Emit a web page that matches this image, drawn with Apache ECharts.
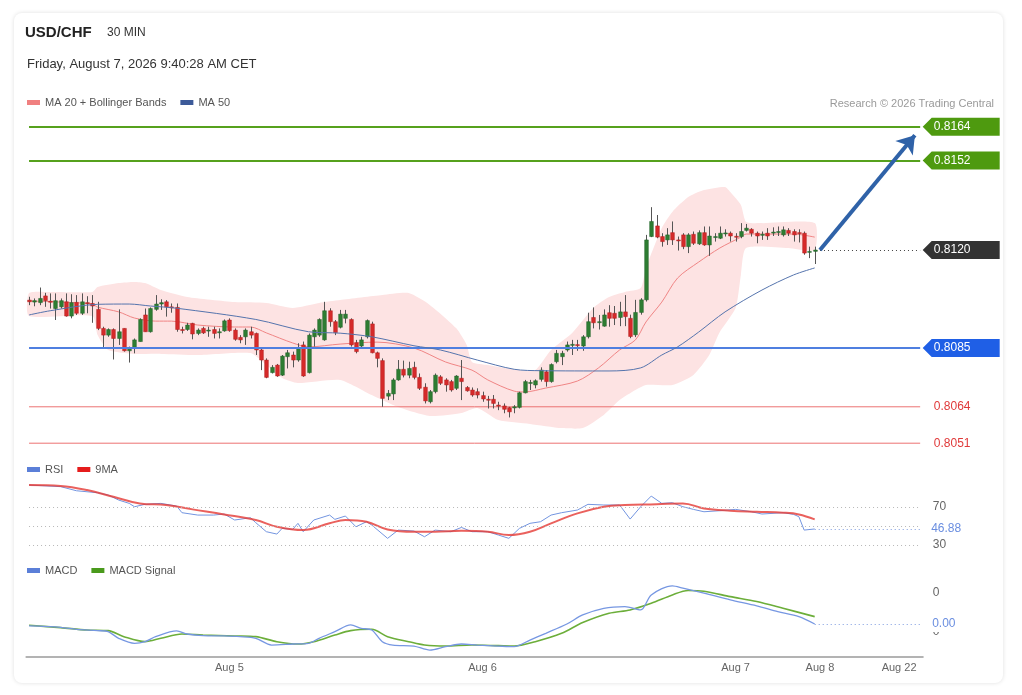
<!DOCTYPE html>
<html>
<head>
<meta charset="utf-8">
<title>USD/CHF 30 MIN</title>
<script src="https://cdn.jsdelivr.net/npm/echarts@6/dist/echarts.min.js"></script>
<style>
  html, body { margin: 0; padding: 0; background: #fff; }
  #card { position: absolute; left: 14px; top: 13px; width: 989px; height: 670px; border-radius: 8px; box-shadow: 0 0 4px rgba(0, 0, 0, 0.13); }
  #chart { position: absolute; left: 0; top: 0; width: 1022px; height: 695px; }
</style>
</head>
<body>
<div id="card"></div>
<div id="chart"></div>
<script>
// 30 min candles, [open, close, low, high]
const candles = [
  [0.81021, 0.81015, 0.81003, 0.81033], [0.81014, 0.81019, 0.80999, 0.81027], [0.81012, 0.81027, 0.81003, 0.81066],
  [0.81036, 0.81019, 0.80997, 0.81047], [0.81017, 0.81014, 0.80991, 0.81045], [0.80991, 0.81019, 0.80950, 0.81045],
  [0.80997, 0.81019, 0.80991, 0.81027], [0.81015, 0.80964, 0.80962, 0.81045], [0.80964, 0.81012, 0.80956, 0.81042],
  [0.81013, 0.80974, 0.80968, 0.81039], [0.80974, 0.81015, 0.80968, 0.81045], [0.81012, 0.81009, 0.80974, 0.81035],
  [0.81009, 0.81000, 0.80940, 0.81039], [0.80988, 0.80920, 0.80914, 0.81015], [0.80920, 0.80896, 0.80849, 0.80926],
  [0.80896, 0.80916, 0.80890, 0.80920], [0.80916, 0.80884, 0.80809, 0.80920], [0.80884, 0.80908, 0.80861, 0.80988],
  [0.80920, 0.80840, 0.80837, 0.80920], [0.80840, 0.80849, 0.80798, 0.80855], [0.80849, 0.80879, 0.80831, 0.80884],
  [0.80873, 0.80952, 0.80873, 0.80956], [0.80968, 0.80908, 0.80908, 0.80991], [0.80908, 0.80991, 0.80905, 0.80995],
  [0.80988, 0.81007, 0.80983, 0.81039], [0.81007, 0.81012, 0.80986, 0.81024], [0.81015, 0.80997, 0.80962, 0.81021],
  [0.80997, 0.80994, 0.80976, 0.81009], [0.80995, 0.80916, 0.80908, 0.81009], [0.80916, 0.80913, 0.80902, 0.80926],
  [0.80916, 0.80932, 0.80911, 0.80940], [0.80938, 0.80900, 0.80881, 0.80940], [0.80902, 0.80914, 0.80896, 0.80920],
  [0.80920, 0.80904, 0.80900, 0.80926], [0.80912, 0.80914, 0.80890, 0.80926], [0.80916, 0.80902, 0.80884, 0.80926],
  [0.80905, 0.80908, 0.80884, 0.80920], [0.80911, 0.80947, 0.80908, 0.80952], [0.80950, 0.80912, 0.80908, 0.80956],
  [0.80914, 0.80881, 0.80876, 0.80920], [0.80888, 0.80879, 0.80867, 0.80896], [0.80890, 0.80914, 0.80861, 0.80920],
  [0.80908, 0.80896, 0.80884, 0.80926], [0.80902, 0.80843, 0.80825, 0.80905], [0.80843, 0.80807, 0.80771, 0.80849],
  [0.80807, 0.80745, 0.80742, 0.80813], [0.80762, 0.80781, 0.80759, 0.80789], [0.80789, 0.80750, 0.80747, 0.80793],
  [0.80753, 0.80821, 0.80750, 0.80825], [0.80819, 0.80833, 0.80777, 0.80843], [0.80825, 0.80807, 0.80781, 0.80837],
  [0.80807, 0.80849, 0.80801, 0.80867], [0.80861, 0.80750, 0.80747, 0.80873], [0.80762, 0.80896, 0.80759, 0.80902],
  [0.80890, 0.80914, 0.80855, 0.80920], [0.80896, 0.80952, 0.80890, 0.80956], [0.80879, 0.80983, 0.80876, 0.81015],
  [0.80983, 0.80944, 0.80926, 0.80992], [0.80944, 0.80905, 0.80896, 0.80950], [0.80924, 0.80971, 0.80920, 0.80986],
  [0.80956, 0.80971, 0.80938, 0.80986], [0.80952, 0.80861, 0.80855, 0.80956], [0.80869, 0.80837, 0.80831, 0.80879],
  [0.80857, 0.80879, 0.80849, 0.80890], [0.80890, 0.80948, 0.80884, 0.80952], [0.80936, 0.80833, 0.80831, 0.80944],
  [0.80833, 0.80813, 0.80781, 0.80837], [0.80805, 0.80670, 0.80640, 0.80813], [0.80678, 0.80688, 0.80664, 0.80700],
  [0.80686, 0.80736, 0.80664, 0.80742], [0.80736, 0.80774, 0.80733, 0.80807], [0.80774, 0.80753, 0.80745, 0.80805],
  [0.80753, 0.80777, 0.80742, 0.80801], [0.80781, 0.80745, 0.80738, 0.80801], [0.80745, 0.80706, 0.80700, 0.80759],
  [0.80710, 0.80661, 0.80652, 0.80724], [0.80658, 0.80694, 0.80652, 0.80700], [0.80694, 0.80753, 0.80688, 0.80759],
  [0.80747, 0.80724, 0.80718, 0.80753], [0.80736, 0.80718, 0.80694, 0.80742], [0.80730, 0.80700, 0.80694, 0.80736],
  [0.80706, 0.80750, 0.80700, 0.80753], [0.80742, 0.80730, 0.80664, 0.80807], [0.80709, 0.80697, 0.80694, 0.80714],
  [0.80700, 0.80682, 0.80676, 0.80709], [0.80694, 0.80682, 0.80670, 0.80706], [0.80680, 0.80668, 0.80658, 0.80694],
  [0.80667, 0.80664, 0.80634, 0.80679], [0.80667, 0.80652, 0.80634, 0.80682], [0.80646, 0.80643, 0.80628, 0.80658],
  [0.80643, 0.80631, 0.80617, 0.80652], [0.80637, 0.80622, 0.80602, 0.80640], [0.80636, 0.80640, 0.80617, 0.80646],
  [0.80638, 0.80690, 0.80634, 0.80694], [0.80690, 0.80730, 0.80688, 0.80736], [0.80724, 0.80727, 0.80700, 0.80736],
  [0.80718, 0.80733, 0.80706, 0.80738], [0.80738, 0.80771, 0.80730, 0.80781], [0.80765, 0.80730, 0.80712, 0.80771],
  [0.80730, 0.80791, 0.80726, 0.80795], [0.80801, 0.80831, 0.80795, 0.80843], [0.80819, 0.80831, 0.80789, 0.80840],
  [0.80843, 0.80861, 0.80837, 0.80873], [0.80861, 0.80863, 0.80825, 0.80879], [0.80862, 0.80860, 0.80840, 0.80879],
  [0.80857, 0.80890, 0.80840, 0.80896], [0.80890, 0.80944, 0.80884, 0.80976], [0.80959, 0.80940, 0.80920, 0.80995],
  [0.80942, 0.80944, 0.80916, 0.80968], [0.80928, 0.80968, 0.80926, 0.80988], [0.80976, 0.80956, 0.80926, 0.81003],
  [0.80974, 0.80956, 0.80932, 0.81000], [0.80959, 0.80979, 0.80928, 0.81015], [0.80979, 0.80962, 0.80928, 0.81039],
  [0.80956, 0.80891, 0.80885, 0.80969], [0.80897, 0.80977, 0.80889, 0.81022], [0.80977, 0.81022, 0.80969, 0.81028],
  [0.81022, 0.81236, 0.81016, 0.81254], [0.81248, 0.81302, 0.81246, 0.81353], [0.81286, 0.81246, 0.81242, 0.81325],
  [0.81248, 0.81230, 0.81212, 0.81260], [0.81236, 0.81254, 0.81218, 0.81278], [0.81262, 0.81236, 0.81218, 0.81302],
  [0.81236, 0.81234, 0.81198, 0.81248], [0.81254, 0.81212, 0.81203, 0.81260], [0.81212, 0.81254, 0.81189, 0.81260],
  [0.81256, 0.81224, 0.81218, 0.81266], [0.81222, 0.81262, 0.81218, 0.81270], [0.81262, 0.81218, 0.81215, 0.81284],
  [0.81218, 0.81250, 0.81179, 0.81284], [0.81246, 0.81248, 0.81230, 0.81260], [0.81242, 0.81260, 0.81239, 0.81284],
  [0.81259, 0.81261, 0.81248, 0.81274], [0.81260, 0.81250, 0.81230, 0.81266], [0.81249, 0.81246, 0.81230, 0.81260],
  [0.81248, 0.81266, 0.81242, 0.81296], [0.81270, 0.81278, 0.81266, 0.81293], [0.81274, 0.81260, 0.81248, 0.81278],
  [0.81260, 0.81250, 0.81224, 0.81266], [0.81254, 0.81256, 0.81236, 0.81266], [0.81260, 0.81250, 0.81236, 0.81278],
  [0.81262, 0.81264, 0.81250, 0.81281], [0.81264, 0.81266, 0.81250, 0.81284], [0.81254, 0.81272, 0.81248, 0.81284],
  [0.81270, 0.81260, 0.81250, 0.81278], [0.81266, 0.81254, 0.81230, 0.81274], [0.81262, 0.81260, 0.81227, 0.81274],
  [0.81260, 0.81189, 0.81183, 0.81266], [0.81193, 0.81195, 0.81171, 0.81212], [0.81195, 0.81200, 0.81150, 0.81212]
];

// indicators, [candle index, value]
const ma20 = [
  [0, 0.81018], [6, 0.81014], [12, 0.81007], [13, 0.80996], [17, 0.80979], [20, 0.80957], [24, 0.80946],
  [27, 0.80946], [32, 0.80932], [39, 0.80925], [42, 0.80925], [45, 0.80904], [50, 0.80868], [53, 0.80854],
  [59, 0.80864], [66, 0.80871], [73, 0.80850], [79, 0.80800], [84, 0.80771], [87, 0.80736], [92, 0.80696],
  [94, 0.80693], [98, 0.80707], [104, 0.80732], [108, 0.80779], [112, 0.80843], [115, 0.80879], [117, 0.80943],
  [120, 0.81014], [123, 0.81100], [127, 0.81157], [131, 0.81207], [135, 0.81246], [136, 0.81257],
  [145, 0.81257], [149, 0.81246]
];
const bbUpper = [
  [0, 0.81046], [4, 0.81050], [12, 0.81050], [13, 0.81068], [17, 0.81082], [20, 0.81086], [22, 0.81082],
  [25, 0.81057], [30, 0.81032], [39, 0.81014], [45, 0.81011], [50, 0.80993], [55, 0.81011], [59, 0.81021],
  [67, 0.81039], [72, 0.81046], [76, 0.81004], [81, 0.80921], [83, 0.80861], [84, 0.80800], [87, 0.80789],
  [93, 0.80771], [96, 0.80771], [99, 0.80843], [103, 0.80904], [107, 0.80993], [110, 0.81032], [113, 0.81050],
  [116, 0.81064], [117, 0.81136], [120, 0.81279], [122, 0.81336], [125, 0.81389], [128, 0.81414],
  [132, 0.81425], [133, 0.81407], [135, 0.81361], [136, 0.81300], [139, 0.81296], [149, 0.81296]
];
const bbLower = [
  [0, 0.80964], [12, 0.80964], [13, 0.80896], [15, 0.80843], [20, 0.80829], [25, 0.80829], [32, 0.80825],
  [42, 0.80832], [45, 0.80789], [48, 0.80743], [51, 0.80725], [59, 0.80736], [65, 0.80682], [70, 0.80639],
  [76, 0.80607], [82, 0.80618], [85, 0.80636], [89, 0.80593], [95, 0.80579], [101, 0.80564], [105, 0.80564],
  [109, 0.80611], [112, 0.80664], [115, 0.80700], [117, 0.80718], [122, 0.80718], [126, 0.80754],
  [129, 0.80825], [131, 0.80907], [134, 0.80993], [135, 0.81111], [136, 0.81207], [144, 0.81207], [149, 0.81200]
];
const ma50 = [
  [0, 0.80968], [4, 0.80983], [13, 0.81006], [19, 0.81007], [23, 0.81000], [28, 0.80992], [43, 0.80952],
  [53, 0.80908], [59, 0.80903], [65, 0.80890], [73, 0.80858], [78, 0.80843], [85, 0.80807], [92, 0.80774],
  [97, 0.80769], [110, 0.80768], [116, 0.80779], [120, 0.80825], [123, 0.80854], [127, 0.80907],
  [132, 0.80979], [139, 0.81057], [145, 0.81111], [149, 0.81136]
];
const rsi = [
  [0, 93.1], [6, 91.4], [9, 87.1], [13, 85.0], [15, 82.6], [17, 77.3], [19, 73.8], [20, 70.3], [22, 72.8],
  [25, 73.8], [28, 71.0], [29, 64.0], [32, 61.5], [35, 61.5], [37, 62.6], [39, 56.3], [42, 58.7], [43, 53.5],
  [45, 44.0], [47, 41.5], [48, 47.5], [50, 46.4], [51, 52.8], [52, 44.0], [54, 56.3], [57, 61.5], [58, 57.0],
  [60, 60.5], [62, 49.2], [64, 54.5], [65, 51.0], [68, 37.0], [70, 45.7], [73, 44.7], [75, 38.7], [77, 45.7],
  [80, 44.0], [82, 48.5], [84, 44.0], [87, 44.0], [89, 40.5], [91, 37.0], [93, 47.5], [95, 52.8], [97, 54.5],
  [99, 61.5], [101, 64.0], [104, 66.8], [106, 72.8], [109, 72.1], [112, 72.1], [114, 57.3], [116, 70.3],
  [118, 81.5], [120, 73.8], [122, 74.5], [124, 70.3], [126, 67.5], [128, 65.0], [131, 66.1], [134, 67.5],
  [137, 65.0], [139, 62.6], [143, 64.0], [145, 62.2], [146, 59.8], [147, 45.7], [149, 46.88]
];
const rsiMa = [
  [0, 93.1], [6, 92.1], [11, 87.8], [16, 80.8], [21, 73.8], [26, 72.1], [31, 67.5], [37, 62.2], [43, 56.3],
  [47, 49.2], [52, 45.7], [57, 52.8], [60, 56.3], [64, 54.5], [68, 46.4], [73, 44.0], [77, 44.0], [82, 45.0],
  [87, 44.0], [91, 40.5], [95, 44.0], [99, 52.8], [104, 63.3], [109, 70.3], [113, 72.1], [119, 72.8],
  [124, 73.8], [128, 68.5], [133, 66.1], [138, 65.0], [143, 64.0], [146, 62.2], [149, 57.0]
];
const macd = [
  [0, 0.000077], [6, 0.000060], [9, 0.000034], [13, 0.000017], [15, 0.000004], [17, -0.000081], [20, -0.000145],
  [22, -0.000124], [24, -0.000060], [28, 0.000013], [30, -0.000026], [33, -0.000047], [37, -0.000051],
  [40, -0.000060], [43, -0.000081], [46, -0.000167], [50, -0.000154], [53, -0.000145], [55, -0.000081],
  [58, 0.000004], [61, 0.000090], [63, 0.000047], [65, 0.000025], [67, -0.000124], [69, -0.000167],
  [73, -0.000180], [76, -0.000231], [79, -0.000188], [82, -0.000154], [85, -0.000167], [89, -0.000180],
  [92, -0.000188], [95, -0.000103], [98, -0.000017], [102, 0.000102], [105, 0.000218], [109, 0.000303],
  [113, 0.000325], [116, 0.000282], [118, 0.000474], [122, 0.000590], [124, 0.000560], [128, 0.000496],
  [133, 0.000410], [138, 0.000333], [142, 0.000260], [146, 0.000196], [149, 0.000102]
];
const macdSignal = [
  [0, 0.000085], [6, 0.000055], [11, 0.000025], [15, 0.000017], [18, -0.000060], [22, -0.000124],
  [25, -0.000081], [29, -0.000026], [33, -0.000039], [39, -0.000051], [43, -0.000060], [47, -0.000124],
  [51, -0.000154], [54, -0.000124], [58, -0.000039], [61, 0.000017], [65, 0.000034], [68, -0.000060],
  [72, -0.000124], [75, -0.000167], [79, -0.000180], [84, -0.000167], [89, -0.000175], [92, -0.000180],
  [96, -0.000124], [101, -0.000017], [105, 0.000120], [110, 0.000239], [114, 0.000282], [118, 0.000367],
  [122, 0.000474], [125, 0.000530], [128, 0.000520], [133, 0.000452], [138, 0.000389], [143, 0.000303],
  [149, 0.000196]
];

// price levels: resistances, last price, pivot, supports
const resistances = [0.8164, 0.8152];
const lastPrice = 0.8120;
const pivot = 0.8085;
const supports = [0.8064, 0.8051];
const target = [0.8120, 0.8161];

const tickIndex = [38, 86, 134, 150, 165];
const tickLabels = ['Aug 5', 'Aug 6', 'Aug 7', 'Aug 8', 'Aug 22'];

const slotCount = 170;
const categories = [];
for (let i = 0; i < slotCount; i++) {
  const m = 5 * 60 + 30 * i;
  const d = 4 + Math.floor(m / 1440);
  const hh = Math.floor((m % 1440) / 60), mm = m % 60;
  categories.push('Aug ' + d + ' ' + String(hh).padStart(2, '0') + ':' + String(mm).padStart(2, '0'));
}
const lastIdx = candles.length - 1;
const endIdx = slotCount - 1;

const FONT = '"Liberation Sans", Arial, sans-serif';
const GREEN = '#2e7d32', RED = '#d62a2a';
const SUPPORT = '#ec7272';
const TAG = 'path://M0,9L9,0L77,0L77,18L9,18Z';

const chart = echarts.init(document.getElementById('chart'));

function renderBand(params, api) {
  const pts = [];
  bbUpper.forEach(p => pts.push(api.coord(p)));
  for (let i = bbLower.length - 1; i >= 0; i--) pts.push(api.coord(bbLower[i]));
  return { type: 'polygon', shape: { points: pts, smooth: 0.2 }, style: { fill: '#fde3e3' } };
}

function renderCandle(params, api) {
  const x = api.value(0);
  const o = api.value(1), c = api.value(2), l = api.value(3), h = api.value(4);
  const pO = api.coord([x, o]), pC = api.coord([x, c]);
  const pL = api.coord([x, l]), pH = api.coord([x, h]);
  const w = api.size([1, 0])[0] * 0.7;
  const up = c >= o;
  const cx = Math.round(pO[0]) + 0.5;
  const top = Math.min(pO[1], pC[1]);
  const hgt = Math.max(Math.abs(pO[1] - pC[1]), 1);
  return {
    type: 'group',
    children: [
      { type: 'line', shape: { x1: cx, y1: pH[1], x2: cx, y2: pL[1] }, style: { stroke: '#555', lineWidth: 1 } },
      { type: 'rect', shape: { x: cx - w / 2, y: top, width: w, height: hgt },
        style: { fill: up ? GREEN : RED, stroke: up ? '#23632a' : '#b01e1e', lineWidth: 0.5 } }
    ]
  };
}

function tag(value, color) {
  return {
    coord: [endIdx, value],
    symbol: TAG, symbolSize: [77, 18], symbolOffset: [41, 0],
    itemStyle: { color: color },
    label: { show: true, position: 'inside', formatter: value.toFixed(4), color: '#fff', fontSize: 12, offset: [-9, 0] }
  };
}

// plain red text to the right of a support line
function supportText(value) {
  return {
    coord: [endIdx, value],
    symbol: 'rect', symbolSize: [1, 1], symbolOffset: [41, 0],
    itemStyle: { color: 'rgba(0,0,0,0)' },
    label: { show: true, position: 'inside', formatter: value.toFixed(4), color: '#e03a3a', fontSize: 12, offset: [-9, 0] }
  };
}

// horizontal level across all the slots
function levelLine(value, color, width) {
  return [{ coord: [0, value], lineStyle: { color: color, width: width, type: 'solid', opacity: 1 } }, { coord: [endIdx, value] }];
}

// support drawn as its own flat line series
function supportSeries(value, i) {
  return {
    type: 'line', name: 'support ' + (i + 1), xAxisIndex: 0, yAxisIndex: 0,
    data: [[0, value], [endIdx, value]], showSymbol: false, silent: true, z: 3,
    lineStyle: { color: SUPPORT, width: 1 }, itemStyle: { color: SUPPORT }
  };
}

const lastRsi = rsi[rsi.length - 1][1];
const lastMacd = macd[macd.length - 1][1];
const dots = [1, 3];

const option = {
  animation: false,
  textStyle: { fontFamily: FONT },
  title: [
    { text: 'USD/CHF', left: 25, top: 25, padding: 0, textStyle: { fontSize: 15, fontWeight: 'bold', color: '#222', fontFamily: FONT } },
    { text: '30 MIN', left: 107, top: 27, padding: 0, textStyle: { fontSize: 12, fontWeight: 'normal', color: '#333', fontFamily: FONT } },
    { text: 'Friday, August 7, 2026 9:40:28 AM CET', left: 27, top: 58, padding: 0, textStyle: { fontSize: 13, fontWeight: 'normal', color: '#333', fontFamily: FONT } },
    { text: 'Research \u00a9 2026 Trading Central', right: 28, top: 98, padding: 0, textStyle: { fontSize: 11, fontWeight: 'normal', color: '#9a9a9a', fontFamily: FONT } }
  ],
  legend: [
    { left: 27, top: 97, padding: 0, icon: 'rect', itemWidth: 13, itemHeight: 5, itemGap: 14,
      textStyle: { fontSize: 11, color: '#555' }, data: ['MA 20 + Bollinger Bands', 'MA 50'] },
    { left: 27, top: 464, padding: 0, icon: 'rect', itemWidth: 13, itemHeight: 5, itemGap: 14,
      textStyle: { fontSize: 11, color: '#555' }, data: ['RSI', '9MA'] },
    { left: 27, top: 565, padding: 0, icon: 'rect', itemWidth: 13, itemHeight: 5, itemGap: 14,
      textStyle: { fontSize: 11, color: '#555' }, data: ['MACD', 'MACD Signal'] }
  ],
  grid: [
    { left: 26.4, right: 99.2, top: 115.6, height: 338.8 },
    { left: 26.4, right: 99.2, top: 478.5, height: 76 },
    { left: 26.4, right: 99.2, top: 578, height: 79 }
  ],
  xAxis: [
    { type: 'category', gridIndex: 0, data: categories, show: false },
    { type: 'category', gridIndex: 1, data: categories, show: false },
    { type: 'category', gridIndex: 2, data: categories,
      axisLine: { onZero: false, lineStyle: { color: '#b3b3b3', width: 2 } },
      axisTick: { show: false },
      axisLabel: { interval: 0, color: '#666', fontSize: 11, margin: 5,
        formatter: function (v, i) { const k = tickIndex.indexOf(i); return k >= 0 ? tickLabels[k] : ''; } } }
  ],
  yAxis: [
    { type: 'value', gridIndex: 0, min: 0.8047, max: 0.8168, show: false },
    { type: 'value', gridIndex: 1, min: 20, max: 100, position: 'right',
      splitLine: { show: false }, axisLine: { show: false }, axisTick: { show: false },
      axisLabel: { customValues: [30, 70], color: '#666', fontSize: 12, margin: 10 } },
    { type: 'value', gridIndex: 2, min: -0.00032, max: 0.00069, position: 'right',
      splitLine: { show: false }, axisLine: { show: false }, axisTick: { show: false },
      axisLabel: { customValues: [0, 0.0005], formatter: v => v.toFixed(0), color: '#666', fontSize: 12, margin: 10 } }
  ],
  series: [
    { type: 'custom', name: 'band', xAxisIndex: 0, yAxisIndex: 0, data: [[75, 0.81]], renderItem: renderBand, silent: true, z: 1 },
    { type: 'line', name: 'MA 20 + Bollinger Bands', xAxisIndex: 0, yAxisIndex: 0, data: ma20, smooth: 0.3, showSymbol: false,
      lineStyle: { color: '#f08585', width: 1 }, itemStyle: { color: '#f08080' }, z: 2 },
    supportSeries(supports[0], 0),
    supportSeries(supports[1], 1),
    { type: 'custom', name: 'USD/CHF', xAxisIndex: 0, yAxisIndex: 0, renderItem: renderCandle,
      encode: { x: 0, y: [1, 2, 3, 4] }, data: candles.map((c, i) => [i].concat(c)), z: 4 },
    { type: 'line', name: 'MA 50', xAxisIndex: 0, yAxisIndex: 0, data: ma50, smooth: 0.3, showSymbol: false,
      lineStyle: { color: '#5574ad', width: 1 }, itemStyle: { color: '#3c5a99' }, z: 5 },
    { type: 'line', name: 'levels', xAxisIndex: 0, yAxisIndex: 0, data: [], clip: false, z: 6,
      markLine: {
        silent: true, symbol: 'none', animation: false,
        label: { show: false },
        data: [
          levelLine(resistances[0], '#56a11d', 2),
          levelLine(resistances[1], '#56a11d', 2),
          levelLine(pivot, '#4f7fe0', 2),
          [{ coord: [lastIdx + 1, lastPrice], lineStyle: { color: '#444', width: 1, type: dots } }, { coord: [endIdx, lastPrice] }],
          [{ coord: [lastIdx + 1, target[0]], symbol: 'none', lineStyle: { color: '#2f62a8', width: 4, type: 'solid' } },
           { coord: [endIdx - 1, target[1]], symbol: 'arrow', symbolSize: [17, 17] }]
        ]
      },
      markPoint: {
        silent: true,
        data: [
          tag(resistances[0], '#4e9a0f'),
          tag(resistances[1], '#4e9a0f'),
          tag(lastPrice, '#333333'),
          tag(pivot, '#1f5fe6'),
          supportText(supports[0]),
          supportText(supports[1])
        ]
      }
    },
    { type: 'line', name: 'RSI', xAxisIndex: 1, yAxisIndex: 1, data: rsi, showSymbol: false,
      lineStyle: { color: '#7395e0', width: 1 }, itemStyle: { color: '#5b7fd8' }, z: 2,
      markLine: {
        silent: true, symbol: 'none', animation: false, label: { show: false },
        lineStyle: { color: '#b8b8b8', width: 1, type: dots },
        data: [
          [{ coord: [0, 70] }, { coord: [endIdx, 70] }],
          [{ coord: [0, 50] }, { coord: [endIdx, 50] }],
          [{ coord: [0, 30] }, { coord: [endIdx, 30] }],
          [{ coord: [lastIdx, lastRsi], lineStyle: { color: '#7d9be0', type: dots, width: 1 },
             label: { show: true, position: 'end', distance: 10, formatter: lastRsi.toFixed(2), color: '#6a8ee0', fontSize: 12,
               backgroundColor: '#fff', padding: [1, 1] } },
           { coord: [endIdx, lastRsi] }]
        ]
      }
    },
    { type: 'line', name: '9MA', xAxisIndex: 1, yAxisIndex: 1, data: rsiMa, smooth: 0.4, showSymbol: false,
      lineStyle: { color: '#e53935', width: 2, opacity: 0.8 }, itemStyle: { color: '#e51c1c' }, z: 3 },
    { type: 'line', name: 'MACD', xAxisIndex: 2, yAxisIndex: 2, data: macd, smooth: 0.3, showSymbol: false,
      lineStyle: { color: '#7697e2', width: 1.3 }, itemStyle: { color: '#5b7fd8' }, z: 3,
      markLine: {
        silent: true, symbol: 'none', animation: false,
        data: [
          [{ coord: [lastIdx, lastMacd], lineStyle: { color: '#7d9be0', type: dots, width: 1 },
             label: { show: true, position: 'end', distance: 10, formatter: lastMacd.toFixed(2), color: '#6a8ee0', fontSize: 12,
               backgroundColor: '#fff', padding: [2, 2] } },
           { coord: [endIdx, lastMacd] }]
        ]
      }
    },
    { type: 'line', name: 'MACD Signal', xAxisIndex: 2, yAxisIndex: 2, data: macdSignal, smooth: 0.3, showSymbol: false,
      lineStyle: { color: '#6cae3a', width: 1.6 }, itemStyle: { color: '#4a9a1c' }, z: 2 }
  ]
};

chart.setOption(option);
window.addEventListener('resize', function () { chart.resize(); });
</script>
</body>
</html>
